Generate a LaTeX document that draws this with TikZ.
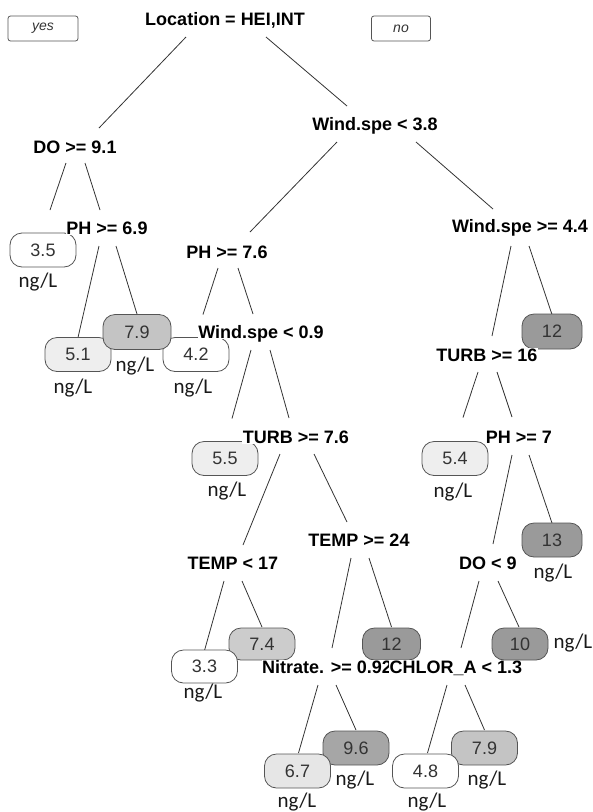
\documentclass[tikz,border=0pt]{standalone}
\usepackage{fontspec}
\setmainfont{Liberation Sans}
\newfontfamily\ngfontfam{Carlito}
\usetikzlibrary{backgrounds}
\definecolor{lightfill}{HTML}{EEEEEE}
\definecolor{lightfillb}{HTML}{E6E6E6}
\definecolor{midfill}{HTML}{CCCCCC}
\definecolor{midfillb}{HTML}{C4C4C4}
\definecolor{darkfill}{HTML}{A6A6A6}
\definecolor{darkerfill}{HTML}{9A9A9A}
\definecolor{boxline}{HTML}{555555}
\definecolor{txtgray}{HTML}{333333}
\begin{document}
\begin{tikzpicture}[x=1pt,y=-1pt,
  split/.style={font=\fontsize{18}{20}\selectfont\bfseries, fill=white, inner sep=0.6pt, text height=12.9pt, text depth=0pt},
  leaf/.style={draw=boxline, rounded corners=12pt, minimum width=66pt, minimum height=34pt, inner sep=0pt, line width=0.8pt, text=txtgray, font=\fontsize{18}{20}\selectfont},
  narrow/.style={minimum width=58pt},
  unitlbl/.style={font=\ngfontfam\fontsize{21}{23}\selectfont, inner sep=0pt, text=black!90},
  legendbox/.style={draw=boxline, rounded corners=2.5pt, minimum height=25pt, inner sep=0pt, line width=0.8pt, text=txtgray, font=\fontsize{14}{16}\selectfont\itshape},
  edge/.style={draw=black!80, line width=0.8pt}]
\useasboundingbox (0,0) rectangle (593,812);

% legend
\node[legendbox, minimum width=70pt] (yes) at (43,28.5) {yes};
\node[legendbox, minimum width=59pt] (no) at (401,28.5) {no};

% leaves
\node[leaf, fill=white] (l35) at (43,250) {3.5};
\node[leaf, fill=lightfill] (l51) at (78,354.5) {5.1};
\node[leaf, fill=white] (l42) at (196,354.5) {4.2};
\node[leaf, fill=midfillb, minimum width=68pt, minimum height=35pt] (l79a) at (137,332) {7.9};
\node[leaf, fill=darkerfill, narrow, minimum width=60pt, minimum height=35pt] (l12a) at (552,331.5) {12};
\node[leaf, fill=lightfill] (l55) at (225,458.5) {5.5};
\node[leaf, fill=lightfill] (l54) at (455,458.5) {5.4};
\node[leaf, fill=darkerfill, narrow, minimum width=60pt] (l13) at (552,540) {13};
\node[leaf, fill=midfill, minimum height=32pt] (l74) at (262,644) {7.4};
\node[leaf, fill=white, minimum height=33pt] (l33) at (204.5,666.5) {3.3};
\node[leaf, fill=darkerfill, narrow, minimum height=32pt] (l12b) at (391.5,644) {12};
\node[leaf, fill=darkfill] (l96) at (356,748) {9.6};
\node[leaf, fill=lightfillb] (l67) at (297.5,771) {6.7};
\node[leaf, fill=midfillb] (l79b) at (484.5,748) {7.9};
\node[leaf, fill=white] (l48) at (425.5,771) {4.8};

% units
\node[unitlbl] (u35) at (38,282) {ng/L};
\node[unitlbl] (u79a) at (135,366) {ng/L};
\node[unitlbl] (u51) at (73,388) {ng/L};
\node[unitlbl] (u42) at (193,388) {ng/L};
\node[unitlbl] (u55) at (227,491) {ng/L};
\node[unitlbl] (u54) at (453,492) {ng/L};
\node[unitlbl] (u13) at (553,573) {ng/L};
\node[unitlbl] (u33) at (203,693) {ng/L};
\node[unitlbl] (u10) at (573,643) {ng/L};
\node[unitlbl] (u96) at (355,780) {ng/L};
\node[unitlbl] (u67) at (297,802) {ng/L};
\node[unitlbl] (u79b) at (487,780) {ng/L};
\node[unitlbl] (u48) at (427,802) {ng/L};

% split labels
\node[split] (root) at (225,19) {Location = HEI,INT};
\node[split] (DO) at (75,147) {DO >= 9.1};
\node[split] (W38) at (375,124) {Wind.spe < 3.8};
\node[split] (PH69) at (107,228) {PH >= 6.9};
\node[split] (PH76) at (227,252) {PH >= 7.6};
\node[split] (W44) at (520,226) {Wind.spe >= 4.4};
\node[split] (W09) at (261,332) {Wind.spe < 0.9};
\node[split] (T16) at (487,355) {TURB >= 16};
\node[split] (T76) at (296,437) {TURB >= 7.6};
\node[split] (PH7) at (519,437) {PH >= 7};
\node[split] (TEMP24) at (359,540) {TEMP >= 24};
\node[split] (TEMP17) at (233,563) {TEMP < 17};
\node[split] (DO9) at (488,563) {DO < 9};
\node[split] (NIT) at (327,667) {Nitrate. >= 0.92};
\node[split] (CHL) at (456,667) {CHLOR\_A < 1.3};

% leaf drawn over label
\node[leaf, fill=darkerfill, minimum width=56pt, minimum height=32pt] (l10) at (520,644) {10};

\begin{scope}[on background layer]
\draw[edge] ([shift={(-39,18)}]root.center) -- ([shift={(24,-19)}]DO.center);
\draw[edge] ([shift={(41,18)}]root.center) -- ([shift={(-28,-18)}]W38.center);
\draw[edge] ([shift={(-9,16)}]DO.center) -- ([shift={(7,-40)}]l35.center);
\draw[edge] ([shift={(10,16)}]DO.center) -- ([shift={(-7,-18)}]PH69.center);
\draw[edge] ([shift={(-38,18)}]W38.center) -- ([shift={(23,-20)}]PH76.center);
\draw[edge] ([shift={(41,18)}]W38.center) -- ([shift={(-27,-17)}]W44.center);
\draw[edge] ([shift={(-8,18)}]PH69.center) -- ([shift={(0,-17)}]l51.center);
\draw[edge] ([shift={(9,18)}]PH69.center) -- ([shift={(0,-18)}]l79a.center);
\draw[edge] ([shift={(-9,16)}]PH76.center) -- ([shift={(7,-40)}]l42.center);
\draw[edge] ([shift={(11,16)}]PH76.center) -- ([shift={(-8,-18)}]W09.center);
\draw[edge] ([shift={(-10,18)}]W09.center) -- ([shift={(7,-40)}]l55.center);
\draw[edge] ([shift={(9,18)}]W09.center) -- ([shift={(-7,-19)}]T76.center);
\draw[edge] ([shift={(-16,17)}]T76.center) -- ([shift={(10,-18)}]TEMP17.center);
\draw[edge] ([shift={(18,17)}]T76.center) -- ([shift={(-12,-18)}]TEMP24.center);
\draw[edge] ([shift={(-9,18)}]TEMP17.center) -- ([shift={(0,-16)}]l33.center);
\draw[edge] ([shift={(9,18)}]TEMP17.center) -- ([shift={(0,-17)}]l74.center);
\draw[edge] ([shift={(-8,18)}]TEMP24.center) -- ([shift={(5,-19)}]NIT.center);
\draw[edge] ([shift={(10,18)}]TEMP24.center) -- ([shift={(0,-17)}]l12b.center);
\draw[edge] ([shift={(-9,18)}]NIT.center) -- ([shift={(1,-18)}]l67.center);
\draw[edge] ([shift={(9,18)}]NIT.center) -- ([shift={(0,-18)}]l96.center);
\draw[edge] ([shift={(-9,20)}]W44.center) -- ([shift={(5,-19)}]T16.center);
\draw[edge] ([shift={(9,20)}]W44.center) -- ([shift={(0,-17)}]l12a.center);
\draw[edge] ([shift={(-9,17)}]T16.center) -- ([shift={(8,-41)}]l54.center);
\draw[edge] ([shift={(10,17)}]T16.center) -- ([shift={(-7,-20)}]PH7.center);
\draw[edge] ([shift={(-7,18)}]PH7.center) -- ([shift={(5,-19)}]DO9.center);
\draw[edge] ([shift={(10,18)}]PH7.center) -- ([shift={(0,-17)}]l13.center);
\draw[edge] ([shift={(-9,18)}]DO9.center) -- ([shift={(5,-19)}]CHL.center);
\draw[edge] ([shift={(10,18)}]DO9.center) -- ([shift={(-1,-17)}]l10.center);
\draw[edge] ([shift={(-9,18)}]CHL.center) -- ([shift={(2,-18)}]l48.center);
\draw[edge] ([shift={(9,18)}]CHL.center) -- ([shift={(0,-18)}]l79b.center);
\end{scope}
\end{tikzpicture}
\end{document}
